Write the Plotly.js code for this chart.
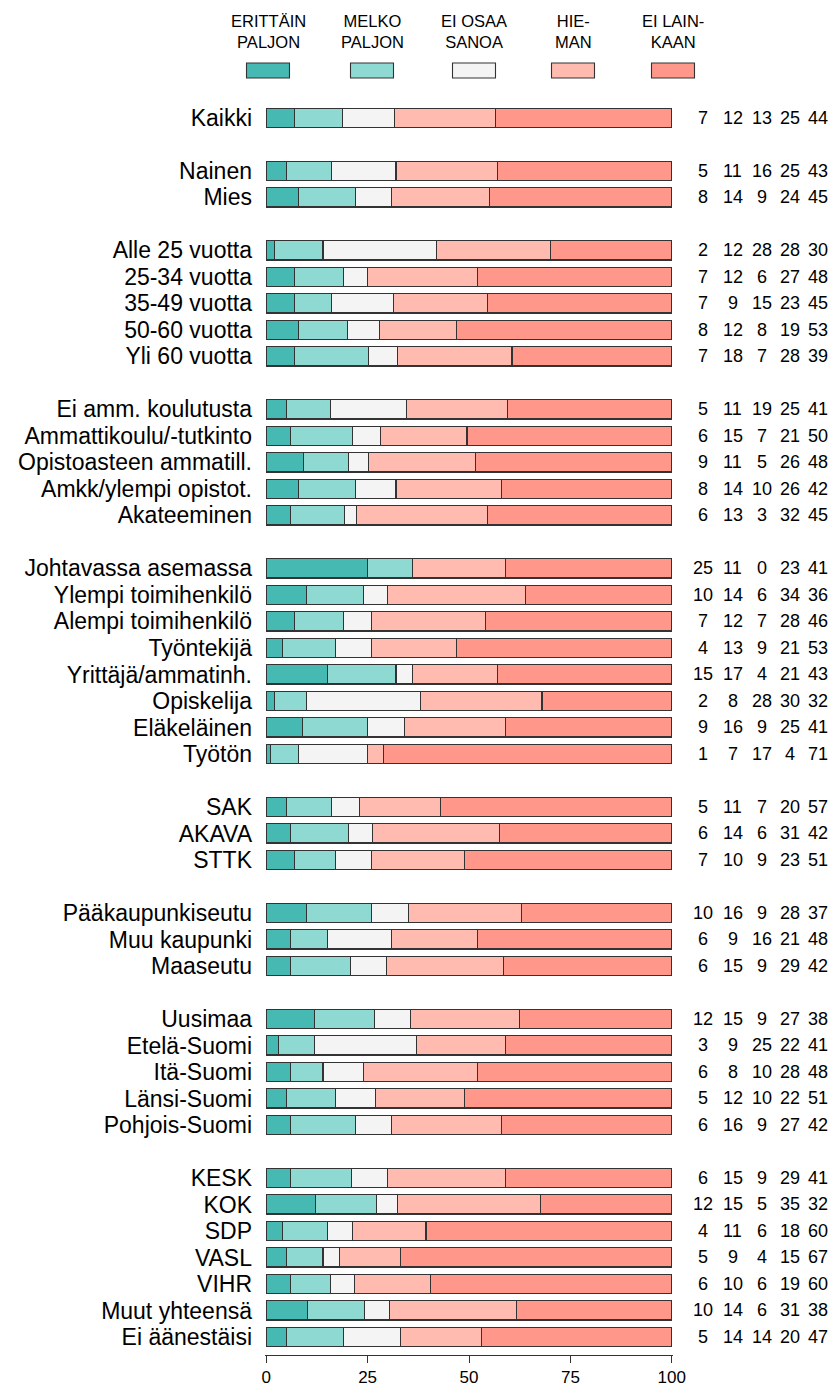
<!DOCTYPE html>
<html>
<head>
<meta charset="utf-8">
<script src="https://cdn.plot.ly/plotly-3.0.1.min.js"></script>
<style>
  html, body { margin: 0; padding: 0; background: #ffffff; }
  #chart { width: 834px; height: 1387px; }
</style>
</head>
<body>
<div id="chart"></div>
<script>
// ---------- DATA ----------
const seriesNames = ["ERITTÄIN PALJON", "MELKO PALJON", "EI OSAA SANOA", "HIEMAN", "EI LAINKAAN"];
const legendLabels = ["ERITTÄIN<br>PALJON", "MELKO<br>PALJON", "EI OSAA<br>SANOA", "HIE-<br>MAN", "EI LAIN-<br>KAAN"];

const categories = [
  "Kaikki",
  "Nainen", "Mies",
  "Alle 25 vuotta", "25-34 vuotta", "35-49 vuotta", "50-60 vuotta", "Yli 60 vuotta",
  "Ei amm. koulutusta", "Ammattikoulu/-tutkinto", "Opistoasteen ammatill.", "Amkk/ylempi opistot.", "Akateeminen",
  "Johtavassa asemassa", "Ylempi toimihenkilö", "Alempi toimihenkilö", "Työntekijä", "Yrittäjä/ammatinh.", "Opiskelija", "Eläkeläinen", "Työtön",
  "SAK", "AKAVA", "STTK",
  "Pääkaupunkiseutu", "Muu kaupunki", "Maaseutu",
  "Uusimaa", "Etelä-Suomi", "Itä-Suomi", "Länsi-Suomi", "Pohjois-Suomi",
  "KESK", "KOK", "SDP", "VASL", "VIHR", "Muut yhteensä", "Ei äänestäisi"
];
// number of categories in each group (a blank row separates groups)
const groupSizes = [1, 2, 5, 5, 8, 3, 3, 5, 7];

const erittainPaljon = [7, 5,8, 2,7,7,8,7, 5,6,9,8,6, 25,10,7,4,15,2,9,1, 5,6,7, 10,6,6, 12,3,6,5,6, 6,12,4,5,6,10,5];
const melkoPaljon    = [12, 11,14, 12,12,9,12,18, 11,15,11,14,13, 11,14,12,13,17,8,16,7, 11,14,10, 16,9,15, 15,9,8,12,16, 15,15,11,9,10,14,14];
const eiOsaaSanoa    = [13, 16,9, 28,6,15,8,7, 19,7,5,10,3, 0,6,7,9,4,28,9,17, 7,6,9, 9,16,9, 9,25,10,10,9, 9,5,6,4,6,6,14];
const hieman         = [25, 25,24, 28,27,23,19,28, 25,21,26,26,32, 23,34,28,21,21,30,25,4, 20,31,23, 28,21,29, 27,22,28,22,27, 29,35,18,15,19,31,20];
const eiLainkaan     = [44, 43,45, 30,48,45,53,39, 41,50,48,42,45, 41,36,46,53,43,32,41,71, 57,42,51, 37,48,42, 38,41,48,51,42, 41,32,60,67,60,38,47];

const colors = ["#45B9B2", "#8FD9D3", "#F4F4F4", "#FFBBAF", "#FF978A"];
const xTicks = [0, 25, 50, 75, 100];

// ---------- LAYOUT HELPERS ----------
const W = 834, H = 1387;
const M = { l: 265, r: 161, t: 102, b: 32 };
const plotW = W - M.l - M.r, plotH = H - M.t - M.b;
const px2paperX = px => (px - M.l) / plotW;
const px2paperY = py => (H - M.b - py) / plotH;

// row positions: blank row between groups
const yPos = [];
{
  let row = 0;
  groupSizes.forEach(n => {
    for (let i = 0; i < n; i++) { yPos.push(row); row++; }
    row++;
  });
}

const allSeries = [erittainPaljon, melkoPaljon, eiOsaaSanoa, hieman, eiLainkaan];
const font = "Liberation Sans, Arial, Helvetica, sans-serif";

const traces = allSeries.map((vals, k) => ({
  type: "bar",
  orientation: "h",
  name: seriesNames[k],
  x: vals,
  y: yPos,
  width: 0.72,
  marker: { color: colors[k], line: { color: "#333333", width: 1.1 } },
  hoverinfo: "name+x",
  showlegend: false
}));

const annotations = [];
// numbers on the right: one column per series, centred
const colCenters = [703, 732.5, 761.5, 790, 818];
categories.forEach((c, i) => {
  allSeries.forEach((s, k) => {
    annotations.push({
      xref: "paper", yref: "y",
      x: px2paperX(colCenters[k]), y: yPos[i],
      xanchor: "center", yanchor: "middle",
      text: String(s[i]), showarrow: false,
      font: { family: font, size: 18, color: "#000000" }
    });
  });
});

// legend
const legendCenters = [268, 372, 474, 573, 673];
const shapes = [];
legendCenters.forEach((cx, k) => {
  annotations.push({
    xref: "paper", yref: "paper",
    x: px2paperX(cx), y: px2paperY(32),
    xanchor: "center", yanchor: "middle",
    text: legendLabels[k], showarrow: false,
    borderpad: 0,
    font: { family: font, size: 16.5, color: "#000000" }
  });
  shapes.push({
    type: "rect", xref: "paper", yref: "paper",
    x0: px2paperX(cx - 21.5), x1: px2paperX(cx + 21.5),
    y0: px2paperY(78), y1: px2paperY(63),
    fillcolor: colors[k],
    line: { color: "#333333", width: 1.1 }
  });
});

const layout = {
  width: W, height: H,
  margin: M,
  paper_bgcolor: "#ffffff",
  plot_bgcolor: "#ffffff",
  barmode: "stack",
  barnorm: "percent",
  font: { family: font, color: "#000000" },
  xaxis: {
    range: [-0.3, 100.3],
    tickvals: xTicks,
    ticktext: xTicks.map(String),
    ticks: "outside", ticklen: 7, tickwidth: 1, tickcolor: "#333333",
    showline: true, linecolor: "#333333", linewidth: 1,
    showgrid: false, zeroline: false,
    tickfont: { family: font, size: 17, color: "#000000" },
    fixedrange: true
  },
  yaxis: {
    range: [46.68, -0.6],
    tickvals: yPos,
    ticktext: categories,
    ticks: "",
    ticklabelstandoff: 12,
    showline: false, showgrid: false, zeroline: false,
    tickfont: { family: font, size: 23, color: "#000000" },
    fixedrange: true
  },
  annotations: annotations,
  shapes: shapes
};

Plotly.newPlot("chart", traces, layout, { displayModeBar: false, staticPlot: true });
</script>
</body>
</html>
